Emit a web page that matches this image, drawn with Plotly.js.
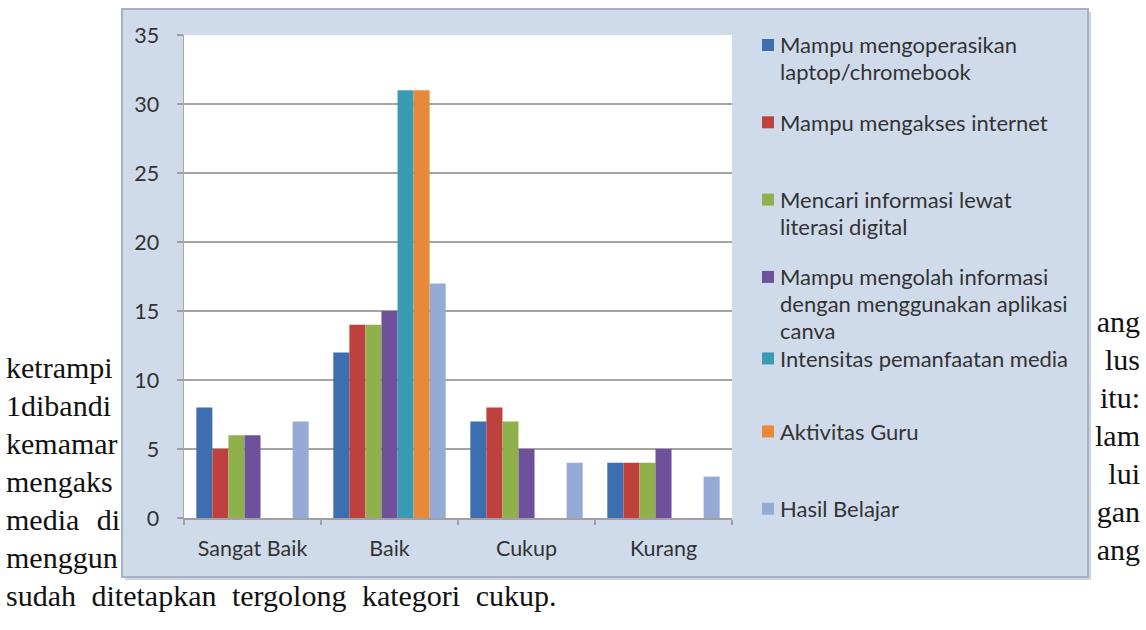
<!DOCTYPE html>
<html>
<head>
<meta charset="utf-8">
<script src="https://cdn.plot.ly/plotly-3.0.1.min.js"></script>
<style>
  html, body { margin:0; padding:0; background:#ffffff; overflow:hidden; }
  #doc { position:absolute; left:0; top:0; width:1146px; height:630px; }
  #doc span { position:absolute; white-space:pre; font-family:"Liberation Serif","Times New Roman",serif;
              font-size:30px; line-height:30px; color:#111; }
  #plot { position:absolute; left:0; top:0; width:1146px; height:630px; }
</style>
</head>
<body>
<div id="doc"></div>
<div id="plot"></div>
<script>
// ---- data ----
const categories = ["Sangat Baik", "Baik", "Cukup", "Kurang"];
const seriesNames = [
  "Mampu mengoperasikan<br>laptop/chromebook",
  "Mampu mengakses internet",
  "Mencari informasi lewat<br>literasi digital",
  "Mampu mengolah informasi<br>dengan menggunakan aplikasi<br>canva",
  "Intensitas pemanfaatan media",
  "Aktivitas Guru",
  "Hasil Belajar"
];
const mampuMengoperasikan = [8, 12, 7, 4];
const mampuMengakses      = [5, 14, 8, 4];
const mencariInformasi    = [6, 14, 7, 4];
const mampuMengolah       = [6, 15, 5, 5];
const intensitasMedia     = [0, 31, 0, 0];
const aktivitasGuru       = [0, 31, 0, 0];
const hasilBelajar        = [7, 17, 4, 3];
const yTicks = [0, 5, 10, 15, 20, 25, 30, 35];

// surrounding document text (fragments visible left and right of the chart)
const leftLines  = ["ketrampi", "1dibandi", "kemamar", "mengaks", "media di", "menggun"];
const rightLines = ["ang", "lus", "itu:", "lam", "lui", "gan", "ang"];
const lastLine   = "sudah ditetapkan tergolong kategori cukup.";

// ---- styles ----
const colors = ["#3d6eaf", "#be413d", "#8fb04b", "#6f519b", "#3b9ab3", "#e8883b", "#95aad4"];
const seriesValues = [mampuMengoperasikan, mampuMengakses, mencariInformasi, mampuMengolah,
                      intensitasMedia, aktivitasGuru, hasilBelajar];

// document text placement
const doc = document.getElementById('doc');
const rowPitch = 38, firstLeftRow = 372, firstRightRow = 326;
function addSpan(t, yc, side, extra) {
  const s = document.createElement('span');
  s.textContent = t;
  if (side === 'left') s.style.left = '6px'; else s.style.right = '6px';
  s.style.top = (yc - 19) + 'px';
  if (extra) Object.assign(s.style, extra);
  doc.appendChild(s);
}
leftLines.forEach((t, i) => addSpan(t, firstLeftRow + rowPitch * i, 'left',
  i === 4 ? { wordSpacing: '10px' } : null));
rightLines.forEach((t, i) => addSpan(t, firstRightRow + rowPitch * i, 'right'));
addSpan(lastLine, firstLeftRow + rowPitch * 6, 'left', { wordSpacing: '8px' });

// ---- plot geometry helpers (pixel -> paper) ----
const PL = 184, PR = 732, PT = 35, PB = 518;
const px = x => (x - PL) / (PR - PL);
const py = y => (PB - y) / (PB - PT);

const traces = seriesValues.map((vals, i) => ({
  type: 'bar',
  x: categories,
  y: vals,
  name: seriesNames[i].replace(/<br>/g, ' '),
  marker: { color: colors[i], line: { width: 0 } },
  hoverinfo: 'x+y+name'
}));

const shapes = [
  { type:'rect', xref:'paper', yref:'paper', x0:px(125), x1:px(1091), y0:py(580), y1:py(12),
    fillcolor:'rgba(120,130,145,0.35)', line:{width:0}, layer:'below' },
  { type:'rect', xref:'paper', yref:'paper', x0:px(122), x1:px(1088), y0:py(577), y1:py(9),
    fillcolor:'#cfdbeb', line:{color:'#a3b2c6', width:2}, layer:'below' },
  { type:'rect', xref:'paper', yref:'paper', x0:0, x1:1, y0:0, y1:1,
    fillcolor:'#ffffff', line:{width:0}, layer:'below' }
];
const annotations = [];
const legendTop = 45, legendStep = 77.3, lineStep = 27, minGap = 27.5;
const legendFont = { family:'Lato, "Open Sans", sans-serif', size:22, color:'#333333' };
let prevLast = -Infinity;
seriesNames.forEach((nm, i) => {
  let yc = legendTop + legendStep * i;
  if (yc < prevLast + minGap) yc = prevLast + minGap;
  shapes.push({ type:'rect', xref:'paper', yref:'paper',
    x0:px(762), x1:px(774), y0:py(yc + 6), y1:py(yc - 6),
    fillcolor: colors[i], line:{width:0} });
  const lines = nm.split('<br>');
  lines.forEach((ln, k) => {
    annotations.push({ xref:'paper', yref:'paper', x:px(779), y:py(yc + k * lineStep),
      xanchor:'left', yanchor:'middle', showarrow:false, text: ln, borderpad:0,
      font: legendFont });
  });
  prevLast = yc + (lines.length - 1) * lineStep;
});

const layout = {
  width: 1146, height: 630,
  margin: { l: PL, r: 1146 - PR, t: PT, b: 630 - PB, pad: 0 },
  paper_bgcolor: 'rgba(0,0,0,0)',
  plot_bgcolor: 'rgba(0,0,0,0)',
  barmode: 'group', bargap: 0.18, bargroupgap: 0,
  showlegend: false,
  font: { family: 'Lato, "Open Sans", sans-serif', size: 21.5, color: '#333333' },
  xaxis: {
    type: 'category', categoryorder: 'array', categoryarray: categories,
    tickson: 'boundaries', ticks: 'outside', ticklen: 5, tickcolor: '#a0a0a0', tickwidth: 1.5,
    showline: true, linecolor: '#a0a0a0', linewidth: 2,
    showgrid: false, zeroline: false, ticklabelstandoff: 10,
    fixedrange: true
  },
  yaxis: {
    range: [0, 35], tickmode: 'array', tickvals: yTicks, ticktext: yTicks.map(String),
    ticks: 'outside', ticklen: 6, tickcolor: '#a0a0a0', tickwidth: 1.5,
    showline: true, linecolor: '#a8a8a8', linewidth: 1.5,
    showgrid: true, gridcolor: '#a4a4a4', gridwidth: 2,
    zeroline: false, ticklabelstandoff: 13, fixedrange: true
  },
  shapes: shapes,
  annotations: annotations
};

Plotly.newPlot('plot', traces, layout, { displayModeBar: false, staticPlot: true });
</script>
</body>
</html>
